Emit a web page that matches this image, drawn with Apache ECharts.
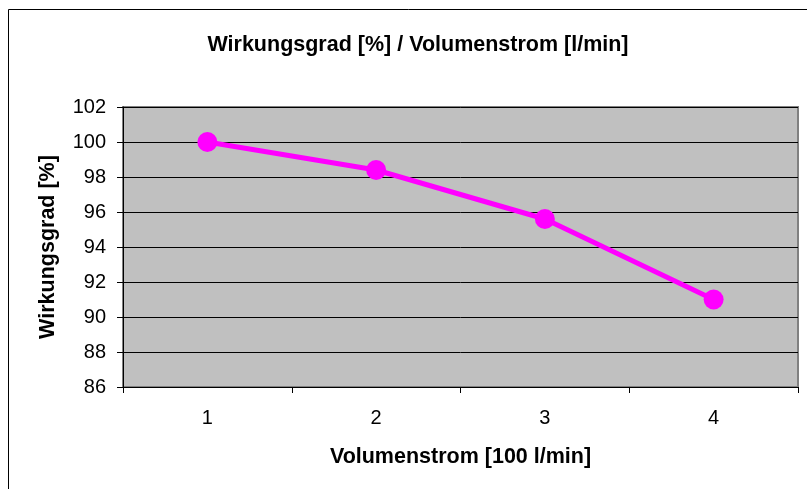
<!DOCTYPE html>
<html>
<head>
<meta charset="utf-8">
<script src="https://cdn.jsdelivr.net/npm/echarts@6/dist/echarts.min.js"></script>
<style>
  html, body { margin: 0; padding: 0; background: #fff; }
  #chart { width: 807px; height: 489px; }
</style>
</head>
<body>
<div id="chart"></div>
<script>
// Werte
var categories = ['1', '2', '3', '4'];
var wirkungsgrad = [100, 98.4, 95.6, 91.0];

var font = 'Arial, "Liberation Sans", sans-serif';

var chart = echarts.init(document.getElementById('chart'));
chart.setOption({
  animation: false,
  backgroundColor: '#fff',
  title: {
    text: 'Wirkungsgrad [%] / Volumenstrom [l/min]',
    left: 413,
    top: 29,
    textAlign: 'center',
    textStyle: { fontFamily: font, fontSize: 21.5, fontWeight: 'bold', color: '#000' }
  },
  graphic: [{
    type: 'rect',
    shape: { x: 8.5, y: 9.5, width: 820, height: 500 },
    style: { fill: 'none', stroke: '#000', lineWidth: 1 },
    silent: true
  }],
  grid: {
    left: 123,
    right: 9,
    top: 107,
    bottom: 102,
    show: true,
    backgroundColor: '#C0C0C0',
    borderColor: '#808080',
    borderWidth: 2
  },
  xAxis: {
    type: 'category',
    data: categories,
    boundaryGap: true,
    name: 'Volumenstrom [100 l/min]',
    nameLocation: 'middle',
    nameGap: 59,
    nameTextStyle: { fontFamily: font, fontSize: 21.5, fontWeight: 'bold', color: '#000' },
    axisLine: { show: true, lineStyle: { color: '#000', width: 1 } },
    axisTick: { show: true, length: 6, lineStyle: { color: '#000' } },
    axisLabel: { margin: 21, fontFamily: font, fontSize: 20, color: '#000' },
    splitLine: { show: false }
  },
  yAxis: {
    type: 'value',
    min: 86,
    max: 102,
    interval: 2,
    name: 'Wirkungsgrad [%]',
    nameLocation: 'middle',
    nameGap: 64,
    nameRotate: 90,
    nameTextStyle: { fontFamily: font, fontSize: 21.5, fontWeight: 'bold', color: '#000' },
    axisLine: { show: true, lineStyle: { color: '#000', width: 1 } },
    axisTick: { show: true, length: 6, lineStyle: { color: '#000' } },
    axisLabel: { margin: 17, fontFamily: font, fontSize: 20, color: '#000' },
    splitLine: { show: true, lineStyle: { color: '#000', width: 1 } }
  },
  series: [{
    name: 'Wirkungsgrad',
    type: 'line',
    data: wirkungsgrad,
    symbol: 'circle',
    symbolSize: 20,
    showAllSymbol: true,
    lineStyle: { color: '#FF00FF', width: 5 },
    itemStyle: { color: '#FF00FF', borderWidth: 0 },
    z: 5
  }]
});
</script>
</body>
</html>
